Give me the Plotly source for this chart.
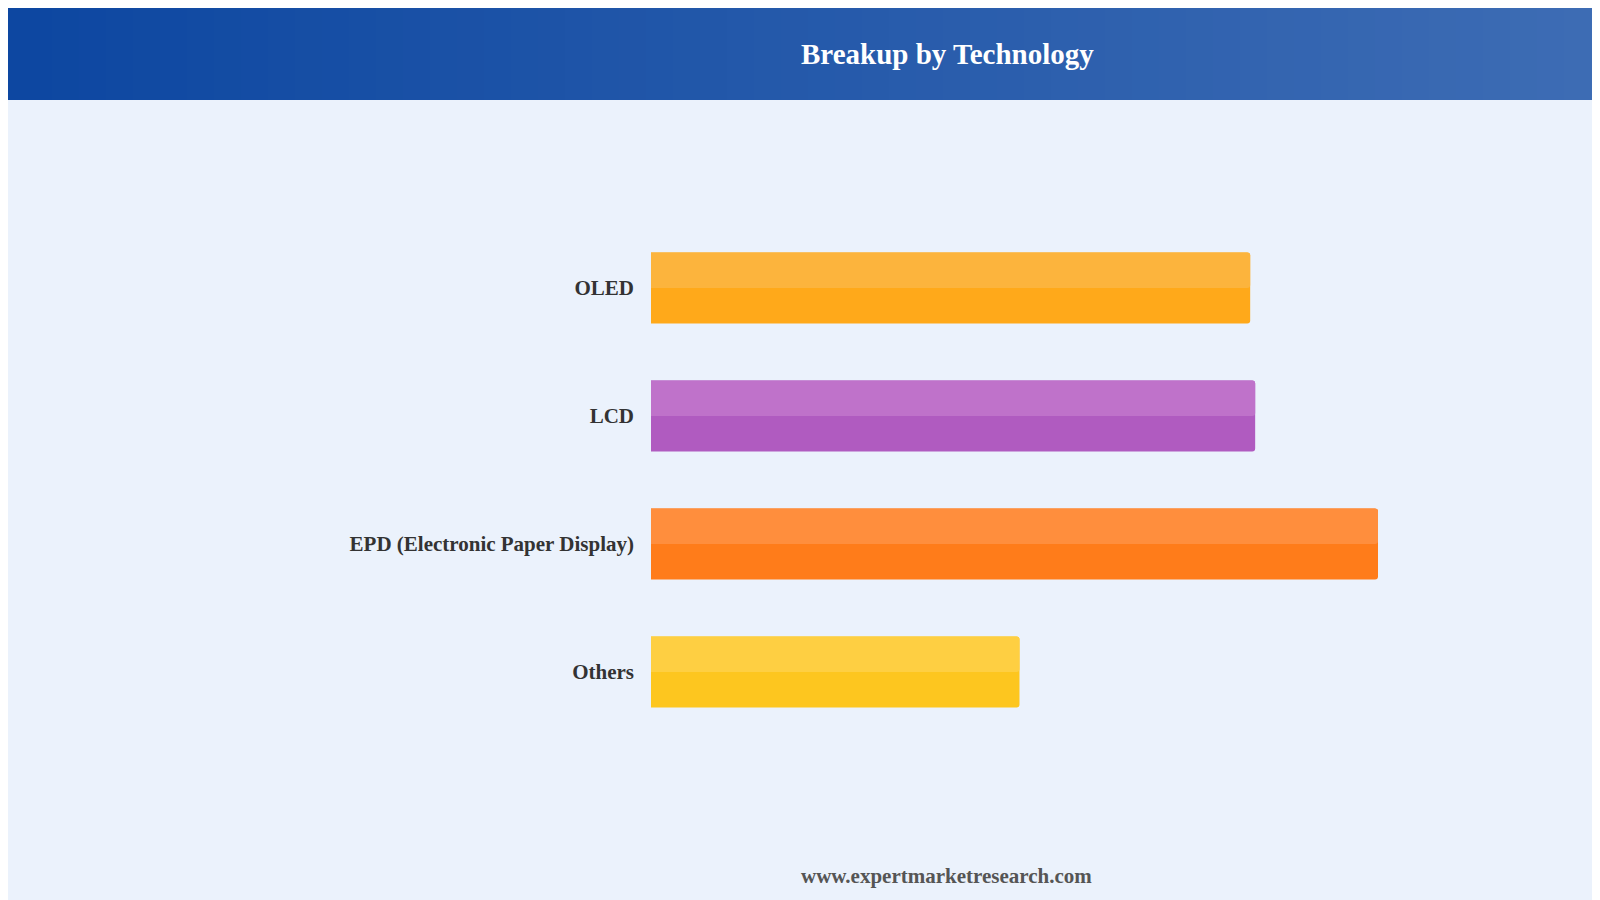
import plotly.graph_objects as go

categories = ["OLED", "LCD", "EPD (Electronic Paper Display)", "Others"]
values = [30.0, 30.25, 36.4, 18.45]
dark_colors = ["#ffa91a", "#b05bc0", "#ff7c1a", "#fdc61f"]
light_colors = ["#fcb43d", "#bf72ca", "#ff8e3d", "#fecf42"]

L, R, T, B = 643, 230, 216, 172
PW, PH = 1600 - L - R, 900 - T - B

def px(x):
    return (x - L) / PW

def py(y):
    return 1 - (y - T) / PH

pos = list(range(len(categories)))
fig = go.Figure()
fig.add_trace(go.Bar(x=values, y=pos, orientation="h", width=0.555, offset=-0.2775,
                     marker=dict(color=dark_colors, cornerradius=3, line_width=0),
                     hoverinfo="skip"))
fig.add_trace(go.Bar(x=values, y=pos, orientation="h", width=0.2775, offset=-0.2775,
                     marker=dict(color=light_colors, cornerradius=3, line_width=0),
                     hoverinfo="skip"))

n = 60
c0 = (13, 71, 161); c1 = (62, 109, 181)
shapes = []
for i in range(n):
    t = i / (n - 1)
    c = tuple(int(c0[k] + (c1[k] - c0[k]) * t) for k in range(3))
    shapes.append(dict(type="rect", xref="paper", yref="paper",
                       x0=px(-10 + i * 1620 / n), x1=px(-10 + (i + 1) * 1620 / n + 1),
                       y0=py(92), y1=py(-20), fillcolor="rgb(%d,%d,%d)" % c,
                       line_width=0, layer="below"))

fig.update_layout(
    width=1600, height=900, barmode="overlay", showlegend=False,
    paper_bgcolor="#ebf2fc", plot_bgcolor="#ebf2fc",
    margin=dict(l=L, r=R, t=T, b=B),
    xaxis=dict(range=[0, 36.4], visible=False, fixedrange=True),
    yaxis=dict(range=[3.5, -0.5], tickvals=pos, ticktext=["<b>%s</b>" % c for c in categories],
               showgrid=False, zeroline=False, ticks="", ticklabelstandoff=16,
               tickfont=dict(family="Liberation Serif", size=21, color="#333333")),
    shapes=shapes,
    annotations=[
        dict(text="<b>Breakup by Technology</b>", xref="paper", yref="paper", x=px(791), y=py(46),
             showarrow=False, font=dict(family="Liberation Serif", size=29, color="white"), yanchor="middle"),
        dict(text="<b>www.expertmarketresearch.com</b>", xref="paper", yref="paper", x=px(791), y=py(868),
             showarrow=False, font=dict(family="Liberation Serif", size=21, color="#555555"), yanchor="middle"),
    ],
)
fig.write_html("out.html")
